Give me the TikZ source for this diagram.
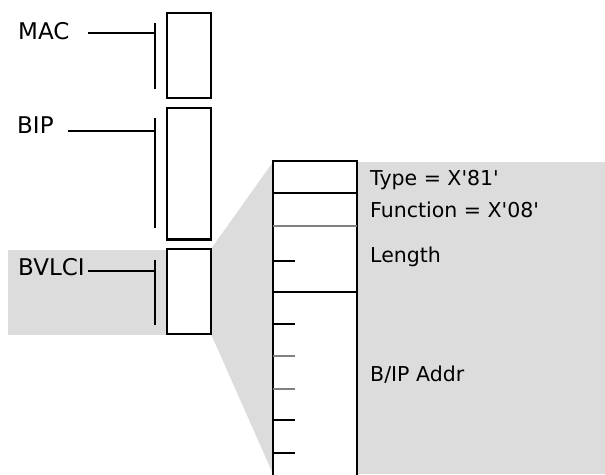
\documentclass[tikz,border=0pt]{standalone}
\usepackage{fontspec}
\usepackage{textcomp}
\setmainfont{DejaVu Sans}
\definecolor{fond}{RGB}{220,220,220}
\definecolor{trait}{RGB}{128,128,128}
\newcommand{\qt}{\textquotesingle}
\tikzset{
  boite/.style={draw, fill=white, line width=1.5pt, inner sep=0pt},
  champ/.style={anchor=base west, inner sep=0pt, font=\fontsize{23}{23}\selectfont},
  etiq/.style={anchor=base west, inner sep=0pt, font=\fontsize{20.5}{20.5}\selectfont},
  lien/.style={line width=1.5pt},
}
\begin{document}
\begin{tikzpicture}[x=1pt, y=-1pt]
\useasboundingbox (0,0) rectangle (605,474);
\clip (0,0) rectangle (605,474);
\fill[white] (0,0) rectangle (605,474);

% Zone grisée (agrandissement de BVLCI)
\fill[fond] (8,250) rectangle (167,335);
\fill[fond] (211,249) -- (273,162) -- (605,162) -- (605,474)
  -- (273,474) -- (211,334) -- cycle;

% Pile des en-têtes
\node[boite, minimum width=44pt, minimum height=85pt] (mac box) at (189,55.5) {};
\node[boite, minimum width=44pt, minimum height=131pt] (bip box) at (189,173.5) {};
\draw[line width=2.5pt] (bip box.south west) -- (bip box.south east);
\node[boite, minimum width=44pt, minimum height=85pt] (bvlci box) at (189,291.5) {};

% Étiquettes et accolades
\node[champ] (mac) at (18,39) {MAC};
\node[champ] (bip) at (17,133) {BIP};
\node[champ] (bvlci) at (18,275) {BVLCI};
\coordinate (mac bar) at (155,33);
\coordinate (bip bar) at (155,131);
\coordinate (bvlci bar) at (155,271);
\draw[lien] ([xshift=18pt]mac.east |- mac bar) -- (mac bar);
\draw[lien] ([xshift=14pt]bip.east |- bip bar) -- (bip bar);
\draw[lien] ([xshift=3pt]bvlci.east |- bvlci bar) -- (bvlci bar);
\draw[lien] (155,23) -- (155,89);
\draw[lien] (155,118) -- (155,228);
\draw[lien] (155,260) -- (155,325);

% Détail du champ BVLCI
\filldraw[boite] (273,490) -- (273,161) -- (357,161) -- (357,490);
\draw[lien] (273,193) -- (357,193);
\draw[lien, trait] (273,226) -- (357,226);
\draw[lien] (273,292) -- (357,292);
\foreach \y/\c in {261/black, 324/black, 356/trait, 389/trait, 420/black, 453/black}
  \draw[lien, \c] (273,\y) -- (295,\y);

\node[etiq] (type) at (370,185) {Type = X\qt 81\qt};
\node[etiq] (func) at (370,217) {Function = X\qt 08\qt};
\node[etiq] (len) at (370,262) {Length};
\node[etiq] (addr) at (370,381) {B/IP Addr};
\end{tikzpicture}
\end{document}
